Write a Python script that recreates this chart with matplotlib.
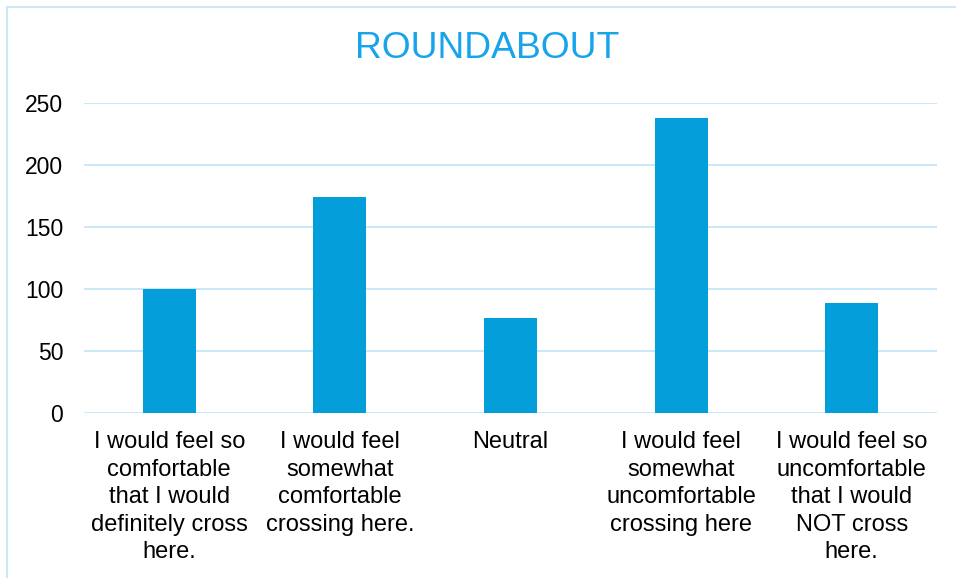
import matplotlib
matplotlib.use('Agg')
import matplotlib.pyplot as plt
from matplotlib.patches import Rectangle

plt.rcParams['font.family'] = ['Liberation Sans', 'DejaVu Sans']

categories = [
    'I would feel so\ncomfortable\nthat I would\ndefinitely cross\nhere.',
    'I would feel\nsomewhat\ncomfortable\ncrossing here.',
    'Neutral',
    'I would feel\nsomewhat\nuncomfortable\ncrossing here',
    'I would feel so\nuncomfortable\nthat I would\nNOT cross\nhere.',
]
counts = [100, 174, 77, 238, 89]
yticks = [0, 50, 100, 150, 200, 250]

bar_color = '#049FDA'
grid_color = '#C9E8F8'

fig = plt.figure(figsize=(9.56, 5.78), dpi=100)
ax = fig.add_axes([84 / 956, 1 - 413 / 578, (937 - 84) / 956, 310 / 578])

x = range(len(categories))
ax.bar(x, counts, width=0.31, color=bar_color, zorder=3)
ax.set_xlim(-0.5, len(categories) - 0.5)
ax.set_ylim(0, 250)
ax.set_yticks(yticks)
ax.set_xticks(list(x))
ax.set_xticklabels(categories, fontsize=17, linespacing=1.33)
ax.tick_params(axis='y', length=0, pad=15, labelsize=16.5)
ax.tick_params(axis='x', length=0, pad=13)
ax.grid(axis='y', color=grid_color, linewidth=1.4, zorder=0)
for s in ax.spines.values():
    s.set_visible(False)

fig.text(487 / 956, 1 - 49 / 578, 'ROUNDABOUT', fontsize=26.8,
         color='#18A4EA', ha='center', va='center')

# outer chart frame (partly off-canvas)
fig.patches.append(Rectangle((7 / 956, -0.1), 1.1, 1 - 7 / 578 + 0.1,
                             transform=fig.transFigure, fill=False,
                             edgecolor=grid_color, linewidth=1.4))

fig.savefig('out.png', dpi=100)
